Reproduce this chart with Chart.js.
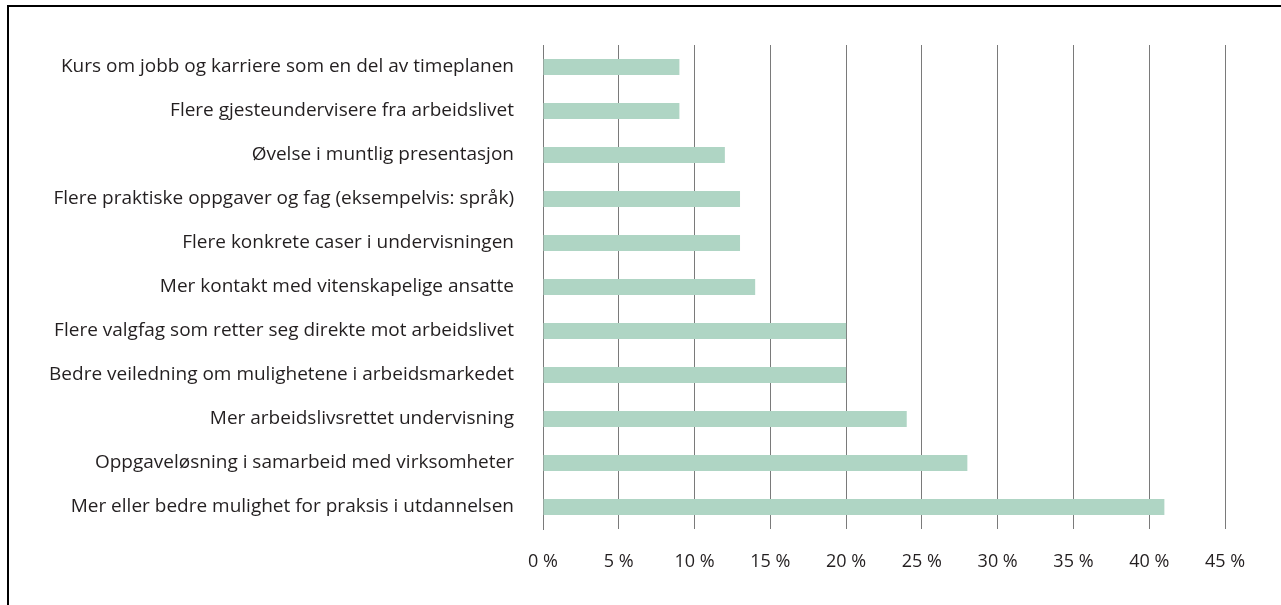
<!DOCTYPE html>
<html>
<head>
<meta charset="utf-8">
<script src="https://cdn.jsdelivr.net/npm/chart.js@4"></script>
<style>
  body { margin: 0; background: #fff; overflow: hidden; }
  #frame { position: absolute; left: 7px; top: 5px; width: 1300px; height: 640px;
           border-top: 2px solid #000; border-left: 2px solid #000; }
  #wrap { position: absolute; left: 0; top: 0; width: 1281px; height: 605px; }
</style>
</head>
<body>
<div id="frame"></div>
<div id="wrap"><canvas id="chart" width="1281" height="605"></canvas></div>
<script>
// answers, top to bottom
const categories = [
  "Kurs om jobb og karriere som en del av timeplanen",
  "Flere gjesteundervisere fra arbeidslivet",
  "Øvelse i muntlig presentasjon",
  "Flere praktiske oppgaver og fag (eksempelvis: språk)",
  "Flere konkrete caser i undervisningen",
  "Mer kontakt med vitenskapelige ansatte",
  "Flere valgfag som retter seg direkte mot arbeidslivet",
  "Bedre veiledning om mulighetene i arbeidsmarkedet",
  "Mer arbeidslivsrettet undervisning",
  "Oppgaveløsning i samarbeid med virksomheter",
  "Mer eller bedre mulighet for praksis i utdannelsen"
];
const shares = [9, 9, 12, 13, 13, 14, 20, 20, 24, 28, 41];
const xTicks = [0, 5, 10, 15, 20, 25, 30, 35, 40, 45];

const textColor = "#231f20";
const fontFamily = "'Open Sans', sans-serif";

new Chart(document.getElementById("chart"), {
  type: "bar",
  data: {
    labels: categories,
    datasets: [{
      data: shares,
      backgroundColor: "#afd5c4",
      borderWidth: 0,
      barPercentage: 0.36,
      categoryPercentage: 1
    }]
  },
  options: {
    indexAxis: "y",
    responsive: false,
    animation: false,
    layout: { padding: { top: 45, right: 56, bottom: 0, left: 0 } },
    plugins: { legend: { display: false }, tooltip: { enabled: false } },
    scales: {
      x: {
        min: 0,
        max: 45,
        afterBuildTicks: (scale) => { scale.ticks = xTicks.map(v => ({ value: v })); },
        afterFit: (scale) => { scale.height = 76; },
        grid: { color: "#7a7a7a", lineWidth: 1, drawTicks: false },
        border: { display: false },
        ticks: {
          padding: 22,
          color: textColor,
          font: { family: fontFamily, size: 18 },
          callback: (v) => v + " %"
        }
      },
      y: {
        afterFit: (scale) => { scale.width = 543; },
        grid: { display: false, drawTicks: false },
        border: { color: "#7a7a7a", width: 1 },
        ticks: {
          padding: 29,
          color: textColor,
          font: { family: fontFamily, size: 19 }
        }
      }
    }
  }
});
</script>
</body>
</html>
